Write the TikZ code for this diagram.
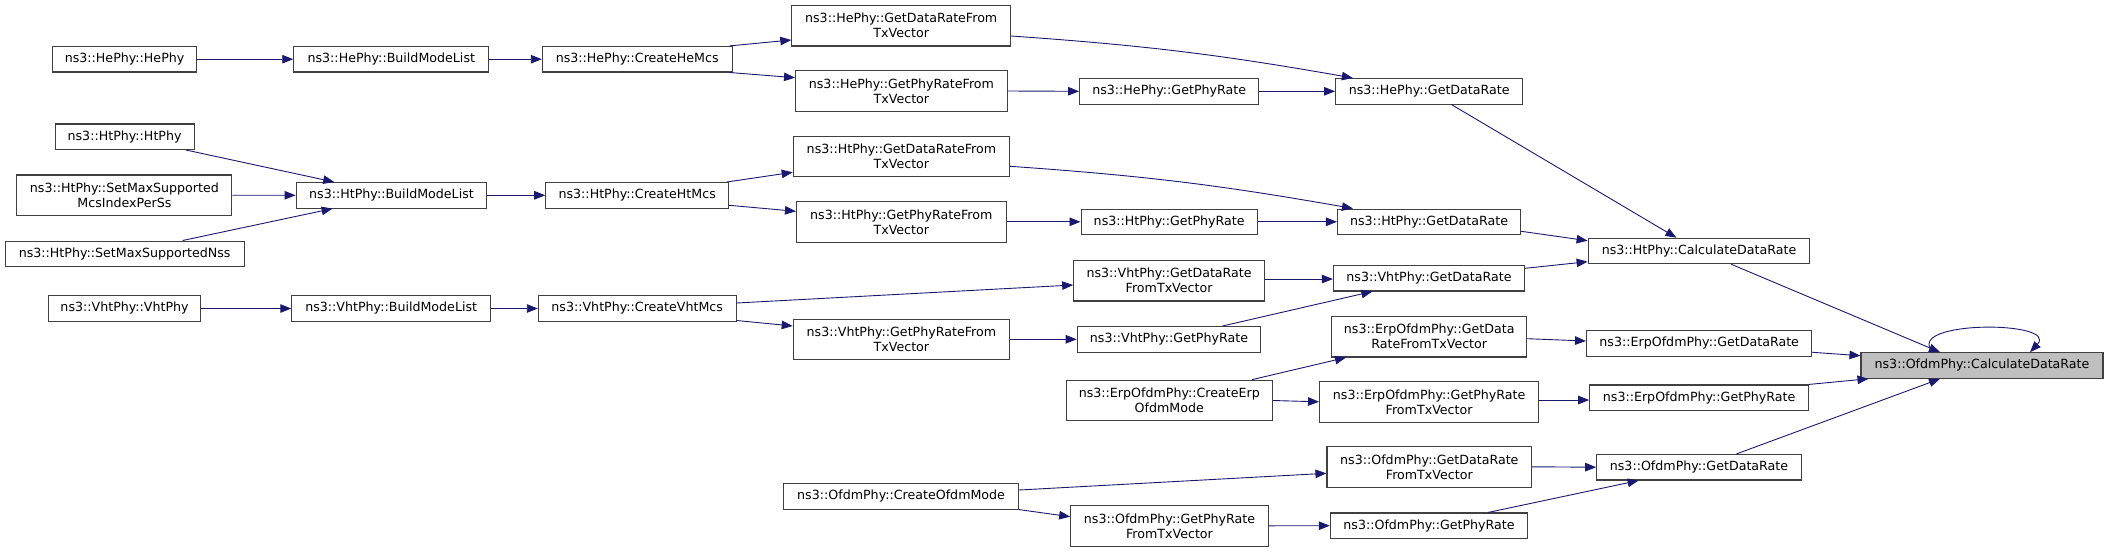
\documentclass[tikz,border=0pt]{standalone}
\usepackage{fontspec}
\setmainfont{DejaVu Sans}
\usetikzlibrary{arrows.meta,calc}
\definecolor{edgeblue}{RGB}{25,25,112}
\definecolor{boxline}{RGB}{64,64,64}
\definecolor{focusfill}{RGB}{191,191,191}
\begin{document}
\begin{tikzpicture}[x=1pt,y=-1pt,
  box/.style={draw=boxline, line width=1.1pt, fill=white, inner sep=0pt, align=center,
    font=\fontsize{12.64}{15}\selectfont, text=black, minimum height=25.5pt},
  tall/.style={minimum height=40.5pt},
  focus/.style={fill=focusfill},
  call/.style={draw=edgeblue, line width=0.9pt, -{Triangle[length=11pt,width=8.5pt]}}
]
\useasboundingbox (0,0) rectangle (2108,552);

% ---- He branch
\node[box,minimum width=144.4pt] (hehephy) at (124.6,59.2) {ns3::HePhy::HePhy};
\node[box,minimum width=195pt] (hebml) at (391.3,59.2) {ns3::HePhy::BuildModeList};
\node[box,minimum width=189.7pt] (hecreate) at (637.2,59.2) {ns3::HePhy::CreateHeMcs};
\node[box,tall,minimum width=218.7pt] (hedrtx) at (901.2,25.7) {ns3::HePhy::GetDataRateFrom\\TxVector};
\node[box,tall,minimum width=211.7pt] (heprtx) at (901.4,91) {ns3::HePhy::GetPhyRateFrom\\TxVector};
\node[box,minimum width=179.1pt] (hepr) at (1169.2,91.3) {ns3::HePhy::GetPhyRate};
\node[box,minimum width=187.2pt] (hedr) at (1429.2,91.3) {ns3::HePhy::GetDataRate};

% ---- Ht branch
\node[box,minimum width=138.9pt] (htphy) at (124.6,136.7) {ns3::HtPhy::HtPhy};
\node[box,tall,minimum width=215pt] (htmcs) at (124.4,195.2) {ns3::HtPhy::SetMaxSupported\\McsIndexPerSs};
\node[box,minimum width=238.9pt] (htnss) at (124.6,253.8) {ns3::HtPhy::SetMaxSupportedNss};
\node[box,minimum width=190.7pt] (htbml) at (391.5,195.3) {ns3::HtPhy::BuildModeList};
\node[box,minimum width=182.9pt] (htcreate) at (637.2,195.3) {ns3::HtPhy::CreateHtMcs};
\node[box,tall,minimum width=216.3pt] (htdrtx) at (901.4,156.5) {ns3::HtPhy::GetDataRateFrom\\TxVector};
\node[box,tall,minimum width=209.6pt] (htprtx) at (901.3,221.8) {ns3::HtPhy::GetPhyRateFrom\\TxVector};
\node[box,minimum width=176.3pt] (htpr) at (1169.2,221.8) {ns3::HtPhy::GetPhyRate};
\node[box,minimum width=183.2pt] (htdr) at (1429.1,221.8) {ns3::HtPhy::GetDataRate};
\node[box,minimum width=221.7pt] (htcalc) at (1699,251) {ns3::HtPhy::CalculateDataRate};

% ---- Vht branch
\node[box,minimum width=152.5pt] (vhtphy) at (124.6,308.5) {ns3::VhtPhy::VhtPhy};
\node[box,minimum width=198.7pt] (vhtbml) at (391.2,308.5) {ns3::VhtPhy::BuildModeList};
\node[box,minimum width=197.7pt] (vhtcreate) at (637.2,308.5) {ns3::VhtPhy::CreateVhtMcs};
\node[box,tall,minimum width=216.3pt] (vhtprtx) at (901.4,339.3) {ns3::VhtPhy::GetPhyRateFrom\\TxVector};
\node[box,tall,minimum width=190.8pt] (vhtdrtx) at (1169.1,280.7) {ns3::VhtPhy::GetDataRate\\FromTxVector};
\node[box,minimum width=183.5pt] (vhtpr) at (1169,339.3) {ns3::VhtPhy::GetPhyRate};
\node[box,minimum width=191.1pt] (vhtdr) at (1429,278.2) {ns3::VhtPhy::GetDataRate};

% ---- ErpOfdm branch
\node[box,tall,minimum width=206.2pt] (erpcreate) at (1169.3,400.5) {ns3::ErpOfdmPhy::CreateErp\\OfdmMode};
\node[box,tall,minimum width=194.9pt] (erpdrtx) at (1429.2,336.7) {ns3::ErpOfdmPhy::GetData\\RateFromTxVector};
\node[box,tall,minimum width=219pt] (erpprtx) at (1429.1,401.8) {ns3::ErpOfdmPhy::GetPhyRate\\FromTxVector};
\node[box,minimum width=225.4pt] (erpdr) at (1699.2,343.3) {ns3::ErpOfdmPhy::GetDataRate};
\node[box,minimum width=218.8pt] (erppr) at (1699.1,397.7) {ns3::ErpOfdmPhy::GetPhyRate};

% ---- Ofdm branch
\node[box,minimum width=234.9pt] (ofdmcreate) at (901.1,496.3) {ns3::OfdmPhy::CreateOfdmMode};
\node[box,tall,minimum width=204.7pt] (ofdmdrtx) at (1429.3,466.8) {ns3::OfdmPhy::GetDataRate\\FromTxVector};
\node[box,tall,minimum width=197.6pt] (ofdmprtx) at (1169.5,525.8) {ns3::OfdmPhy::GetPhyRate\\FromTxVector};
\node[box,minimum width=197.4pt] (ofdmpr) at (1429,525.7) {ns3::OfdmPhy::GetPhyRate};
\node[box,minimum width=204.5pt] (ofdmdr) at (1699,467.2) {ns3::OfdmPhy::GetDataRate};
\node[box,focus,minimum width=242pt] (calc) at (1982,365.5) {ns3::OfdmPhy::CalculateDataRate};

% ---- edges: He
\draw[call] (hehephy.east) -- (hebml.west);
\draw[call] (hebml.east) -- (hecreate.west);
\draw[call] ($(hecreate.north east)+(-3,0)$) -- ($(hedrtx.west)+(0,14.3)$);
\draw[call] ($(hecreate.south east)+(-3,0)$) -- ($(heprtx.west)+(0,-13.3)$);
\draw[call] ($(hedrtx.east)+(0,10.3)$) to[bend left=3] ($(hedr.north west)+(17.8,0)$);
\draw[call] (heprtx.east) -- (hepr.west);
\draw[call] (hepr.east) -- (hedr.west);
\draw[call] ($(hedr.south)+(22.3,0)$) -- ($(htcalc.north)+(-22.6,0)$);

% ---- edges: Ht
\draw[call] ($(htphy.south east)+(-8.7,0)$) -- ($(htbml.north west)+(38.6,0)$);
\draw[call] (htmcs.east) -- (htbml.west);
\draw[call] ($(htnss.north)+(58,0)$) -- ($(htbml.south west)+(37,0)$);
\draw[call] (htbml.east) -- (htcreate.west);
\draw[call] ($(htcreate.north east)+(-2.4,0)$) -- ($(htdrtx.west)+(0,15.8)$);
\draw[call] ($(htcreate.south east)+(0,-3.3)$) -- ($(htprtx.west)+(0,-10.5)$);
\draw[call] ($(htdrtx.east)+(0,9.8)$) to[bend left=3] ($(htdr.north west)+(16,0)$);
\draw[call] (htprtx.east) -- (htpr.west);
\draw[call] (htpr.east) -- (htdr.west);
\draw[call] ($(htdr.east)+(0,9.5)$) -- ($(htcalc.west)+(0,-10.3)$);

% ---- edges: Vht
\draw[call] (vhtphy.east) -- (vhtbml.west);
\draw[call] (vhtbml.east) -- (vhtcreate.west);
\draw[call] ($(vhtcreate.east)+(0,-5.5)$) -- ($(vhtdrtx.west)+(0,4.3)$);
\draw[call] ($(vhtcreate.south east)+(0,-1.3)$) -- ($(vhtprtx.west)+(0,-13.3)$);
\draw[call] ($(vhtdrtx.east)+(0,-1.7)$) -- ($(vhtdr.west)+(0,0.8)$);
\draw[call] (vhtprtx.east) -- (vhtpr.west);
\draw[call] ($(vhtpr.north)+(53.5,0)$) -- ($(vhtdr.south)+(-56.7,0)$);
\draw[call] ($(vhtdr.east)+(0,-9.9)$) -- ($(htcalc.west)+(0,10.7)$);

% ---- edges: to the focus node
\draw[call] ($(htcalc.south)+(32.3,0)$) -- ($(calc.north)+(-42,0)$);

% ---- edges: ErpOfdm
\draw[call] ($(erpcreate.north)+(82.5,0)$) -- ($(erpdrtx.south west)+(14.8,0)$);
\draw[call] (erpcreate.east) -- (erpprtx.west);
\draw[call] ($(erpdrtx.east)+(0,2)$) -- ($(erpdr.west)+(0,-2.3)$);
\draw[call] ($(erpprtx.east)+(0,-1.8)$) -- ($(erppr.west)+(0,2.3)$);
\draw[call] ($(erpdr.east)+(0,9)$) -- ($(calc.west)+(0,-9.8)$);
\draw[call] (erppr.north east) -- ($(calc.south west)+(8,0)$);

% ---- edges: Ofdm
\draw[call] ($(ofdmcreate.east)+(0,-6.3)$) -- ($(ofdmdrtx.west)+(0,6.5)$);
\draw[call] (ofdmcreate.south east) -- ($(ofdmprtx.west)+(0,-9.1)$);
\draw[call] (ofdmdrtx.east) -- (ofdmdr.west);
\draw[call] (ofdmprtx.east) -- (ofdmpr.west);
\draw[call] ($(ofdmpr.north)+(59.3,0)$) -- ($(ofdmdr.south)+(-60.4,0)$);
\draw[call] ($(ofdmdr.north)+(37.5,0)$) -- ($(calc.south)+(-42,0)$);

% ---- self loop
\draw[call] ($(calc.north)+(-49,0)$) .. controls ($(calc.north)+(-80,-32)$) and ($(calc.north)+(78,-32)$) .. ($(calc.north)+(48,0)$);
\end{tikzpicture}
\end{document}
